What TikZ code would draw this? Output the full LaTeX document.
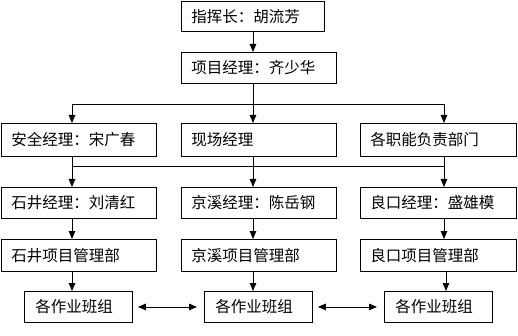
\documentclass[tikz,border=0pt]{standalone}
\usepackage{fontspec}
\setmainfont{Noto Sans CJK SC}
\usetikzlibrary{arrows.meta}
\begin{document}
\begin{tikzpicture}[x=1pt,y=-1pt,
  box/.style={draw, line width=0.9pt, anchor=north west, inner xsep=10pt, inner ysep=0pt, align=left, font=\fontsize{15.5}{16}\selectfont},
  arr/.style={line width=0.9pt, -{Triangle[length=8pt,width=6.5pt]}},
  lin/.style={line width=0.9pt},
  dbl/.style={line width=0.9pt, {Triangle[length=8pt,width=6.5pt]}-{Triangle[length=8pt,width=6.5pt]}, shorten <=5pt, shorten >=7pt}]
\useasboundingbox (0,0) rectangle (518,336);
\node[box, minimum width=143pt, minimum height=30pt, text width=123pt] (b1) at (181,1) {指挥长：胡流芳};
\node[box, minimum width=155pt, minimum height=31pt, text width=135pt] (b2) at (181,52) {项目经理：齐少华};
\node[box, minimum width=155pt, minimum height=33pt, text width=135pt] (s1) at (1,123) {安全经理：宋广春};
\node[box, minimum width=155pt, minimum height=33pt, text width=135pt] (s2) at (181,123) {现场经理};
\node[box, minimum width=156pt, minimum height=33pt, text width=136pt] (s3) at (360,123) {各职能负责部门};
\node[box, minimum width=155pt, minimum height=31pt, text width=135pt] (m1) at (1,187) {石井经理：刘清红};
\node[box, minimum width=155pt, minimum height=31pt, text width=135pt] (m2) at (181,187) {京溪经理：陈岳钢};
\node[box, minimum width=156pt, minimum height=31pt, text width=136pt] (m3) at (360,187) {良口经理：盛雄模};
\node[box, minimum width=155pt, minimum height=32pt, text width=135pt] (p1) at (1,239) {石井项目管理部};
\node[box, minimum width=155pt, minimum height=32pt, text width=135pt] (p2) at (181,239) {京溪项目管理部};
\node[box, minimum width=156pt, minimum height=32pt, text width=136pt] (p3) at (360,239) {良口项目管理部};
\node[box, minimum width=108pt, minimum height=31pt, text width=88pt, inner xsep=10pt] (t1) at (24,291) {\hspace{1pt}各作业班组};
\node[box, minimum width=108pt, minimum height=31pt, text width=88pt] (t2) at (204,291) {\hspace{1pt}各作业班组};
\node[box, minimum width=108pt, minimum height=31pt, text width=88pt] (t3) at (384,291) {\hspace{1pt}各作业班组};
\coordinate (cA) at (72,0);
\coordinate (cB) at (253,0);
\coordinate (cC) at (444,0);
\coordinate (cD) at (446,0);
\coordinate (j1) at (253,104);
\coordinate (j2) at (253,166);
\draw[arr] (b1.south -| cB) -- (b2.north -| cB);
\draw[lin] (b2.south -| cB) -- (j1);
\draw[lin] (j1 -| cA) -- (j1 -| cC);
\draw[arr] (j1 -| cA) -- (s1.north -| cA);
\draw[arr] (j1 -| cB) -- (s2.north -| cB);
\draw[arr] (j1 -| cC) -- (s3.north -| cC);
\draw[lin] (s1.south -| cA) -- (j2 -| cA);
\draw[lin] (s2.south -| cB) -- (j2 -| cB);
\draw[lin] (s3.south -| cC) -- (j2 -| cC);
\draw[lin] (j2 -| cA) -- (j2 -| cC);
\draw[arr] (j2 -| cA) -- (m1.north -| cA);
\draw[arr] (j2 -| cB) -- (m2.north -| cB);
\draw[arr] (j2 -| cC) -- (m3.north -| cC);
\draw[arr] (m1.south -| cA) -- (p1.north -| cA);
\draw[arr] (m2.south -| cB) -- (p2.north -| cB);
\draw[arr] (m3.south -| cC) -- (p3.north -| cC);
\draw[arr] (p1.south -| cA) -- (t1.north -| cA);
\draw[arr] (p2.south -| cB) -- (t2.north -| cB);
\draw[arr] (p3.south -| cD) -- (t3.north -| cD);
\draw[dbl] (t1) -- (t2);
\draw[dbl] (t2) -- (t3);
\end{tikzpicture}
\end{document}
